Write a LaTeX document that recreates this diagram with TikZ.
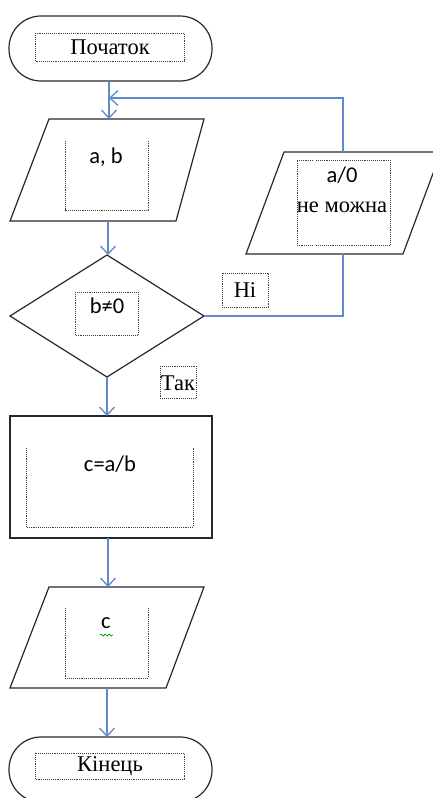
\documentclass[tikz,border=0pt]{standalone}
\usepackage{fontspec}
\setmainfont{Liberation Serif}
\newfontfamily\calib{Carlito}
\usetikzlibrary{arrows.meta,decorations.pathmorphing}
\definecolor{flowblue}{RGB}{95,138,206}
\definecolor{outline}{RGB}{40,40,40}
\begin{document}
\begin{tikzpicture}[x=1pt,y=-1pt,
  block/.style={draw=outline,line width=1.2pt},
  frame/.style={draw=black!75,densely dotted,line width=0.9pt},
  flowline/.style={draw=flowblue,line width=1.3pt},
  flow/.style={flowline,-{Straight Barb[length=8pt,width=15pt,line width=1.3pt]}},
  serif/.style={font=\fontsize{22.5}{26}\selectfont,inner sep=0pt},
  sans/.style={font=\calib\fontsize{22.5}{26}\selectfont,inner sep=0pt}]

\useasboundingbox (0,0) rectangle (433,798);

% start terminator
\draw[block,rounded corners=32pt] (9,16) rectangle (212,81);
\coordinate (startS) at (109,81);
\draw[frame] (35,33) rectangle (184,61);
\node[serif] (start) at (110,47) {Початок};

% input a, b
\draw[block] (49,119) -- (204,119) -- (176,221) -- (10,221) -- cycle;
\coordinate (inN) at (109,119);
\coordinate (inS) at (108,221);
\coordinate (join) at (109,98);
\draw[frame] (65,141) -- (65,210) -- (148,210) -- (148,141);
\node[sans] (ab) at (106,157) {a, b};

% decision
\draw[block] (107,255) -- (204,316) -- (107,377) -- (10,316) -- cycle;
\coordinate (decN) at (108,255);
\coordinate (decE) at (204,316);
\coordinate (decS) at (107,377);
\draw[frame] (75,292) rectangle (138,335);
\node[sans] (cond) at (107,306) {b≠0};

% branch labels
\draw[frame] (222,273) rectangle (268,307);
\node[serif] (no) at (245,290) {Ні};
\draw[frame] (160,366) rectangle (196,398);
\node[serif] (yes) at (178,383) {Так};

% error output
\draw[block] (284,152) -- (441,152) -- (403,254) -- (246,254) -- cycle;
\coordinate (errN) at (343,152);
\coordinate (errS) at (343,254);
\draw[frame] (313,160) -- (297,160) -- (297,245) -- (313,245);
\draw[frame] (316,160) -- (390,160) -- (390,245) -- (316,245);
\node[sans] (err1) at (342,175) {a/0};
\node[serif] (err2) at (342,207) {не можна};

% process
\draw[block] (10,416) rectangle (212,538);
\coordinate (procN) at (107,416);
\coordinate (procS) at (108,538);
\draw[frame] (26,448) -- (26,527) -- (193,527) -- (193,448);
\node[sans] (calc) at (110,464) {c=a/b};

% output c
\draw[block] (49,587) -- (204,587) -- (166,688) -- (10,688) -- cycle;
\coordinate (outN) at (108,587);
\coordinate (outS) at (107,688);
\draw[frame] (65,608) -- (65,678) -- (148,678) -- (148,608);
\node[sans] (res) at (106,623) {c};
\draw[green!60!black,line width=0.7pt,decorate,decoration={snake,amplitude=1pt,segment length=4pt}] (100,635) -- (113,635);

% end terminator
\draw[block,rounded corners=32pt] (9,737) rectangle (212,802);
\coordinate (endN) at (107,737);
\draw[frame] (35,753) rectangle (184,779);
\node[serif] (fin) at (110,766) {Кінець};

% connectors
\draw[flow] (startS) -- (inN);
\draw[flow] (inS) -- (decN);
\draw[flow] (decS) -- (procN);
\draw[flow] (procS) -- (outN);
\draw[flow] (outS) -- (endN);
\draw[flowline] (decE) -- (decE -| errS) -- (errS);
\draw[flow] (errN) -- (errN |- join) -- (join);
\end{tikzpicture}
\end{document}
